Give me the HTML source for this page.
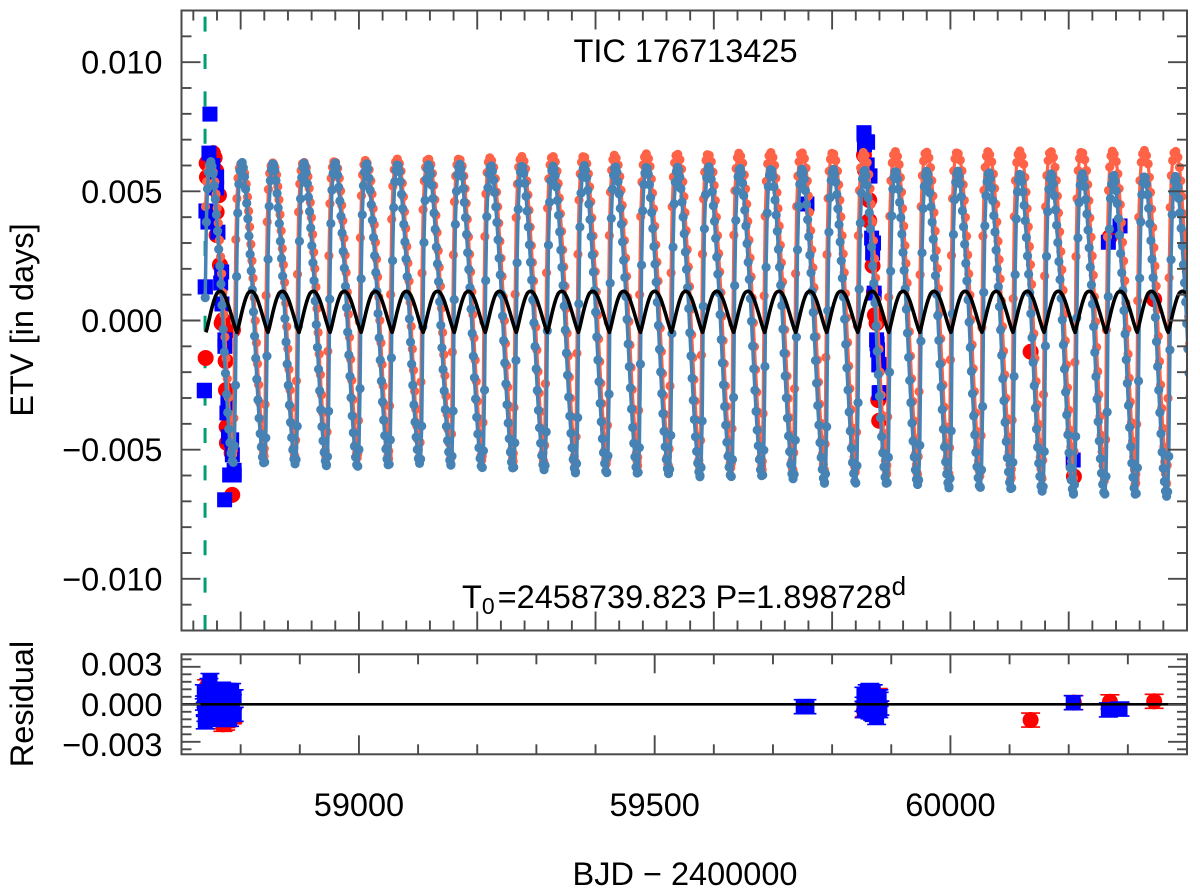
<!DOCTYPE html>
<html lang="en">
<head>
<meta charset="utf-8">
<title>TIC 176713425 ETV</title>
<style>
html,body{margin:0;padding:0;background:#fff;width:1200px;height:891px;overflow:hidden}
svg{display:block}
text{font-family:"Liberation Sans",sans-serif;font-size:32.5px;fill:#000}
</style>
</head>
<body>
<svg id="chart" xmlns="http://www.w3.org/2000/svg" width="1200" height="891" viewBox="0 0 1200 891">
  <defs>
    <clipPath id="clip-main"><rect x="181.5" y="10.5" width="1005.5" height="620"/></clipPath>
    <clipPath id="clip-res"><rect x="181.5" y="654.3" width="1005.5" height="100"/></clipPath>
  </defs>
  <g id="main-marks" clip-path="url(#clip-main)"></g>
  <g id="res-marks" clip-path="url(#clip-res)"></g>
  <g id="axes"></g>
  <text x="685.5" y="62" text-anchor="middle">TIC 176713425</text>
  <text x="462" y="608">T<tspan font-size="23" dy="6">0</tspan><tspan dy="-6" dx="3">=2458739.823 P=1.898728</tspan><tspan font-size="26" dy="-13">d</tspan></text>
  <text transform="translate(33,320) rotate(-90)" text-anchor="middle">ETV [in days]</text>
  <text transform="translate(33,704) rotate(-90)" text-anchor="middle">Residual</text>
  <text x="685" y="885" text-anchor="middle" xml:space="preserve">BJD − 2400000</text>
</svg>
<script>
// ---- data ----
const t0Line = 58739.823;
const seriesStart = 58739.8;

// time of each blue model maximum
const cyclePeakTimes = [58749.6,58802.2,58854.9,58907.5,58960.1,59012.8,59065.4,59118.0,59170.6,59223.3,59275.9,59328.5,59381.2,59433.8,59486.4,59539.1,59591.7,59644.3,59696.9,59749.6,59802.2,59854.8,59907.5,59960.1,60012.7,60065.4,60118.0,60170.6,60223.2,60275.9,60328.5,60381.1];
const bluePeaks = [0.00615,0.00615,0.00612,0.00612,0.0061,0.0061,0.00608,0.00605,0.00605,0.00602,0.00602,0.006,0.006,0.00598,0.00598,0.00595,0.00595,0.00592,0.0059,0.00588,0.00585,0.00585,0.00582,0.0058,0.00578,0.00575,0.00572,0.0057,0.00568,0.00565,0.00562,0.0056];
const blueTroughs = [-0.00555,-0.0056,-0.00562,-0.00562,-0.0057,-0.00568,-0.0056,-0.0056,-0.00575,-0.0058,-0.00585,-0.0059,-0.00595,-0.006,-0.006,-0.00605,-0.0061,-0.0061,-0.0062,-0.0063,-0.00635,-0.0064,-0.00642,-0.00648,-0.00652,-0.0066,-0.00668,-0.00672,-0.00678,-0.00682,-0.00688,-0.00692];
const orangePeaks = [0.00605,0.00608,0.0061,0.00615,0.0062,0.00622,0.00625,0.00628,0.0063,0.00632,0.00635,0.00638,0.0064,0.00642,0.00645,0.00647,0.00648,0.0065,0.0065,0.00652,0.00653,0.00653,0.00654,0.00655,0.00655,0.00656,0.00656,0.00657,0.00657,0.00658,0.00658,0.00658];
const orangeTroughs = [-0.00525,-0.0053,-0.00532,-0.00535,-0.00538,-0.0054,-0.00542,-0.00545,-0.00548,-0.0055,-0.00555,-0.00558,-0.00562,-0.00566,-0.0057,-0.00574,-0.00578,-0.00582,-0.00586,-0.0059,-0.00594,-0.00598,-0.00602,-0.00606,-0.0061,-0.00614,-0.00618,-0.00622,-0.00628,-0.00634,-0.00638,-0.00642];

// dot days relative to a cycle maximum
const blueDays = [-15.2,-13.3,-11.4,-9.5,-7.6,-5.7,-3.8,-1.9,0,1.9,3.8,5.7,7.6,9.5,11.4,13.3,15.2,17.1,19,20.9,22.8,24.7,26.6,28.5,30.4,32.3,34.2,36.1];
const orangeDays = [-16.2,-15,-13.6,-11.8,-10,-8,-5.8,-3.5,-0.5,3,5.8,7.9,9.8,11.6,13.6,15.5,17.3,19.3,21.1,23,24.9,26.8,28.7,30.6,32.4,33.9,35.1,36];
const dayStepByPass = [0,0.475,0.95,1.425];

// fractional height of the dots between trough (0) and peak (1), for successive passes
const passA = [0,.03,.18,.55,.8,.91,.965,.99,1,.985,.96,.92,.875,.825,.77,.71,.655,.595,.525,.445,.37,.30,.23,.17,.115,.07,.035,.01];
const passB = [.005,.06,.26,.62,.83,.925,.97,.993,.997,.98,.95,.91,.863,.812,.755,.695,.64,.578,.505,.425,.352,.283,.215,.155,.104,.06,.027,.008];
const passC = [.01,.09,.36,.68,.855,.94,.977,.995,.993,.973,.94,.898,.85,.798,.74,.683,.625,.56,.485,.408,.335,.265,.2,.143,.093,.052,.022,.006];
const passD = [.02,.13,.46,.74,.88,.95,.984,.998,.989,.967,.93,.886,.838,.784,.725,.669,.61,.543,.465,.39,.318,.247,.185,.129,.082,.044,.016,.004];

// black curve: minima and one-cycle shape
const blackTroughTimes = [58741.3,58793.8,58846.3,58898.7,58951.2,59003.7,59056.2,59108.7,59161.1,59213.6,59266.1,59318.6,59371.1,59423.5,59476.0,59528.5,59581.0,59633.5,59685.9,59738.4,59790.9,59843.4,59895.9,59948.3,60000.8,60053.3,60105.8,60158.3,60210.7,60263.2,60315.7,60368.2];
const blackDays = [0,2,4,6,8,10,12,14,16,18,20,22,24,26,28,30,32,34,36,38,40,42,44,46,48,50,52.48];
const blackValues = [-0.00046,-0.0003,-0.0001,0.0001,0.0003,0.00048,0.00065,0.0008,0.00093,0.00103,0.00109,0.00112,0.00113,0.00112,0.00109,0.00103,0.00095,0.00085,0.00073,0.00059,0.00044,0.00029,0.00013,-0.00003,-0.00018,-0.00033,-0.00046];

// measured eclipse times
const redTimes = [58740.8,58742.5,58743,58753.2,58759.4,58759.4,58763.3,58765,58770,58767.9,58787,58774.6,58775.2,58776.3,58776.8,58784.8,58785.8,59853.8,59855.5,59862.7,59862.7,59868.4,59870.7,59872.4,59875.2,59878,59879.6,60135.6,60208.8,60269.7,60344.5,58756,58758.5,58774.2,58779];
const redValues = [-0.00145,0.00609,0.00555,0.00648,0.0042,0.00331,0.00485,0.00215,0.00002,-0.0001,-0.00037,-0.00157,-0.00269,-0.00412,-0.00474,-0.00513,-0.00675,0.0064,0.00582,0.00466,0.00386,0.00212,0.00111,0.00021,-0.0001,-0.00308,-0.00388,-0.00121,-0.00604,0.00324,0.00082,0.0063,0.0058,-0.00018,-0.00037];
const redResiduals = [-0.0004,0.0014,0.0006,0.0005,0.0002,-0.0005,0.0003,-0.0003,-0.0016,-0.0014,-0.0009,-0.0015,-0.0013,0.0003,0,-0.0002,-0.001,-0.0005,-0.0004,0.0006,0.0008,-0.0002,0.0004,-0.0003,0.0006,0.0007,-0.0003,-0.00126,0.00013,0.0002,0.00024,0.0001,-0.0002,-0.001,-0.0012];
const blueTimes = [58738.5,58740.2,58741.3,58744.7,58746.4,58748.1,58759.4,58759.4,58761.6,58766.2,58767.9,58768.4,58773.4,58772.9,58776.8,58778.5,58784.8,58781.4,58789.2,58786,59751.1,59757.4,59853.8,59854.7,59859.3,59859.3,59863.9,59866.8,59869.5,59868.5,59871.1,59875.2,59876.9,59879.1,59880.8,60207.6,60267,60286.8,58752.9,58752.9,58752.9,58773.4,58789,58779.5,58738.8,58740.2,59854,59860,59879.5,59879,59864,59876,59870];
const blueValues = [-0.00272,0.0013,0.00424,0.00381,0.00648,0.00799,0.00555,0.00513,0.00342,0.00145,0.00188,0.00064,-0.00075,-0.00694,-0.00358,-0.00319,-0.00462,-0.00598,-0.00598,-0.0052,0.00451,0.00451,0.00727,0.0068,0.00692,0.00602,0.00559,0.00319,0.003,0.00261,0.00106,-0.00075,-0.00114,-0.00172,-0.00279,-0.0054,0.00303,0.00366,0.006,0.0056,0.0056,-0.001,-0.0058,-0.0045,-0.0027,0.0013,0.0072,0.0069,-0.0028,-0.0017,0.0056,-0.0009,0.003];
const blueResiduals = [0.001,-0.0014,-0.0008,0.0006,0.0015,0.0019,0.0009,-0.0005,0.0011,-0.0004,0.0012,-0.0012,-0.0003,-0.001,0.0011,-0.0012,0.0011,-0.0012,-0.0008,0.0002,-0.00019,-0.00019,0.0008,-0.0005,-0.0005,0.001,0.0011,0.0002,0.001,-0.0007,-0.0008,-0.00105,-0.0004,0.0006,-0.0003,0.00013,-0.00045,-0.00038,0.0004,-0.0003,-0.0012,0.0007,0.0006,0.0003,0.0001,-0.0004,0,0.0002,0.0004,-0.0005,-0.0006,-0.0002,0.0003];
const residualError = 0.00056;

// ticks
const yTickLabels = ["0.010","0.005","0.000","−0.005","−0.010"];
const yTickValues = [0.01,0.005,0,-0.005,-0.01];
const resTickLabels = ["0.003","0.000","−0.003"];
const resTickValues = [0.003,0,-0.003];
const xTickLabels = ["59000","59500","60000"];
const xTickValues = [59000,59500,60000];

// ---- axis functions ----
const L = 181.5, R = 1187, T = 10.5, B = 630.5, RT = 654.3, RB = 754.3;
const xAxis = t => L + (t - 58700) * (R - L) / 1700;
const yAxis = v => (T + B) / 2 - v * (B - T) / 0.024;
const rAxis = v => (RT + RB) / 2 - v * (RB - RT) / 0.008;

const NS = 'http://www.w3.org/2000/svg';
function mk(parent, tag, attrs) {
  const e = document.createElementNS(NS, tag);
  for (const k in attrs) e.setAttribute(k, attrs[k]);
  parent.appendChild(e);
  return e;
}
const main = document.getElementById('main-marks');
const res = document.getElementById('res-marks');
const axes = document.getElementById('axes');
const RED = '#ff0000', BLUE = '#0000ff', ORANGE = '#ff6347', STEEL = '#4682b4';

// ---- green T0 marker ----
{
  const el = mk(main, 'line', {x1: xAxis(t0Line), x2: xAxis(t0Line), y1: 630, y2: 11, stroke: '#009e73', 'stroke-width': 3, 'stroke-dasharray': '15 22.4'});
  
  
}

// ---- measured points ----
redTimes.forEach((t, i) => {
  const el = mk(main, 'circle', {cx: xAxis(t), cy: yAxis(redValues[i]), r: 8, fill: RED});
  
  
});
blueTimes.forEach((t, i) => {
  const el = mk(main, 'rect', {x: xAxis(t) - 7.5, y: yAxis(blueValues[i]) - 7.5, width: 15, height: 15, fill: BLUE});
  
  
});

// ---- model series ----
function modelSeries(peaks, troughs, days, passOffset) {
  const passes = [passA, passB, passC, passD];
  const out = [];
  cyclePeakTimes.forEach((pt, k) => {
    const p = (k + passOffset) % 4;
    const frac = passes[p];
    const lowBefore = k > 0 ? troughs[k - 1] : troughs[0];
    days.forEach((d, i) => {
      const day = d + dayStepByPass[p];
      const low = i < 9 ? lowBefore : troughs[k];
      const t = pt + day;
      if (t < seriesStart) return;
      out.push([t, low + frac[i] * (peaks[k] - low)]);
    });
  });
  return out;
}
function drawSeries(points, color, width, radius, lineName, dotName) {
  const el = mk(main, 'polyline', {points: points.map(p => xAxis(p[0]).toFixed(2) + ',' + yAxis(p[1]).toFixed(2)).join(' '), fill: 'none', stroke: color, 'stroke-width': width, 'stroke-linejoin': 'round'});
  
  
  points.forEach(p => {
    const c = mk(main, 'circle', {cx: xAxis(p[0]).toFixed(2), cy: yAxis(p[1]).toFixed(2), r: radius, fill: color});
    
    
  });
}
drawSeries(modelSeries(orangePeaks, orangeTroughs, orangeDays, 2), ORANGE, 3.2, 4.6, 'secondary-model-line', 'secondary-model-point');
drawSeries(modelSeries(bluePeaks, blueTroughs, blueDays, 0), STEEL, 3.5, 4.6, 'primary-model-line', 'primary-model-point');

// ---- black curve ----
{
  const pts = [];
  blackTroughTimes.forEach(tt => {
    blackDays.forEach((d, i) => {
      pts.push(xAxis(tt + d).toFixed(2) + ',' + yAxis(blackValues[i]).toFixed(2));
    });
  });
  const el = mk(main, 'polyline', {points: pts.join(' '), fill: 'none', stroke: '#000', 'stroke-width': 3.6, 'stroke-linejoin': 'round'});
  
  
}

// ---- residual panel ----
function errorBar(t, r, color) {
  const x = xAxis(t), y1 = rAxis(r + residualError), y2 = rAxis(r - residualError);
  const d = 'M' + x + ' ' + y1 + 'V' + y2 + 'M' + (x - 9.5) + ' ' + y1 + 'H' + (x + 9.5) + 'M' + (x - 9.5) + ' ' + y2 + 'H' + (x + 9.5);
  return mk(res, 'path', {d: d, stroke: color, 'stroke-width': 1.6, fill: 'none'});
}
redTimes.forEach((t, i) => {
  const eb = errorBar(t, redResiduals[i], RED);
  
  
  const el = mk(res, 'circle', {cx: xAxis(t), cy: rAxis(redResiduals[i]), r: 8, fill: RED});
  
  
});
blueTimes.forEach((t, i) => {
  const eb = errorBar(t, blueResiduals[i], BLUE);
  
  
  const el = mk(res, 'rect', {x: xAxis(t) - 7.5, y: rAxis(blueResiduals[i]) - 7.5, width: 15, height: 15, fill: BLUE});
  
  
});
{
  const el = mk(res, 'line', {x1: L, x2: R, y1: rAxis(0), y2: rAxis(0), stroke: '#000', 'stroke-width': 2.6});
  
  
}

// ---- frames & ticks ----
const AX = '#4a4a4a';
function tick(x1, y1, x2, y2, name) {
  const el = mk(axes, 'line', {x1, y1, x2, y2, stroke: AX, 'stroke-width': 1.9});
  
  
}
for (let t = 58720; t < 60400; t += 40) {
  const len = t % 200 === 0 ? 19 : 10;
  tick(xAxis(t), T, xAxis(t), T + len, 'top-x-tick');
  tick(xAxis(t), B, xAxis(t), B - len, 'bottom-x-tick');
}
for (let n = -11; n <= 11; n++) {
  const v = n * 0.001, len = n % 5 === 0 ? 19 : 10;
  tick(L, yAxis(v), L + len, yAxis(v), 'left-y-tick');
  tick(R, yAxis(v), R - len, yAxis(v), 'right-y-tick');
}
for (let t = 58800; t < 60400; t += 100) {
  const len = t % 500 === 0 ? 19 : 10;
  tick(xAxis(t), RT, xAxis(t), RT + len, 'residual-top-x-tick');
  tick(xAxis(t), RB, xAxis(t), RB - len, 'residual-bottom-x-tick');
}
for (let n = -6; n <= 6; n++) {
  const v = n * 0.0006, len = n % 5 === 0 ? 19 : 10;
  tick(L, rAxis(v), L + len, rAxis(v), 'residual-left-y-tick');
  tick(R, rAxis(v), R - len, rAxis(v), 'residual-right-y-tick');
}
{
  const f1 = mk(axes, 'rect', {x: L, y: T, width: R - L, height: B - T, fill: 'none', stroke: AX, 'stroke-width': 2});
  
  
  const f2 = mk(axes, 'rect', {x: L, y: RT, width: R - L, height: RB - RT, fill: 'none', stroke: AX, 'stroke-width': 2});
  
  
}
yTickLabels.forEach((s, i) => {
  const el = mk(axes, 'text', {x: 162.5, y: yAxis(yTickValues[i]) + 11.5, 'text-anchor': 'end'});
  el.textContent = s;
  
  
});
resTickLabels.forEach((s, i) => {
  const el = mk(axes, 'text', {x: 162.5, y: rAxis(resTickValues[i] * 1.07) + 11.5, 'text-anchor': 'end'});
  el.textContent = s;
  
  
});
xTickLabels.forEach((s, i) => {
  const el = mk(axes, 'text', {x: xAxis(xTickValues[i]), y: 816, 'text-anchor': 'middle'});
  el.textContent = s;
  
  
});
</script>
</body>
</html>
